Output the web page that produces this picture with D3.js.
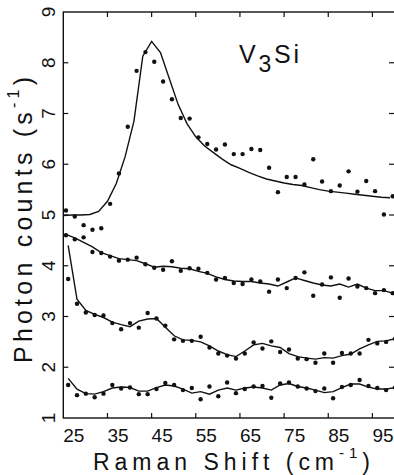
<!DOCTYPE html>
<html>
<head>
<meta charset="utf-8">
<script src="https://cdn.jsdelivr.net/npm/d3@7/dist/d3.min.js"></script>
<style>
body { margin: 0; background: #fff; }
text { font-family: "Liberation Sans", sans-serif; fill: #111; }
</style>
</head>
<body>
<script>
// Raman spectra of V3Si, four temperatures stacked.
// dots = measured counts, fit = calculated curve.
var xsA = [25.6, 27.6, 29.6, 31.6, 33.6, 35.6, 37.6, 39.6, 41.6, 43.6, 45.6, 47.6, 49.6,
	51.6, 53.6, 55.6, 57.6, 59.6, 61.6, 63.6, 65.6, 67.6, 69.6, 71.6, 73.6, 75.6, 77.6,
	79.6, 81.6, 83.6, 85.6, 87.6, 89.6, 91.6, 93.6, 95.6, 97.6, 99.6];
var xsB = [26.1, 28.1, 30.1, 32.1, 34.1, 36.1, 38.1, 40.1, 42.1, 44.1, 46.1, 48.1, 50.1,
	52.1, 54.1, 56.1, 58.1, 60.1, 62.1, 64.1, 66.1, 68.1, 70.1, 72.1, 74.1, 76.1, 78.1,
	80.1, 82.1, 84.1, 86.1, 88.1, 90.1, 92.1, 94.1, 96.1, 98.1, 100.1];
var fitX1 = [25, 27, 29, 31, 33, 35, 37, 39, 41, 43, 45, 47, 49, 51, 53, 55, 57, 59, 61,
	63, 65, 67, 69, 71, 73, 75, 77, 79, 81, 83, 85, 87, 89, 91, 93, 95, 97, 99];

var dots1 = [5.09, 4.97, 4.80, 4.71, 4.74, 5.22, 5.82, 6.74, 7.84, 8.21,
	8.02, 7.63, 7.28, 6.91, 6.90, 6.53, 6.40, 6.29, 6.39, 6.20,
	6.20, 6.30, 6.28, 5.93, 5.45, 5.75, 5.75, 5.60, 6.10, 5.66,
	5.47, 5.58, 5.86, 5.46, 5.67, 5.47, 5.01, 5.37];
var fit1 = [4.99, 5.00, 5.00, 5.01, 5.07, 5.27, 5.62, 6.15, 6.85, 8.13,
	8.42, 8.20, 7.69, 7.18, 6.80, 6.54, 6.36, 6.23, 6.10, 5.99,
	5.92, 5.84, 5.77, 5.71, 5.67, 5.63, 5.60, 5.58, 5.54, 5.50,
	5.47, 5.45, 5.43, 5.41, 5.39, 5.37, 5.35, 5.34];

var dots2 = [4.60, 4.52, 4.56, 4.27, 4.25, 4.18, 4.10, 4.12, 4.16, 4.03,
	3.96, 3.92, 4.09, 3.90, 3.95, 3.94, 3.86, 3.73, 3.76, 3.66,
	3.64, 3.73, 3.69, 3.49, 3.73, 3.56, 3.76, 3.87, 3.41, 3.63,
	3.77, 3.37, 3.75, 3.59, 3.56, 3.46, 3.52, 3.46];
var fit2 = [4.62, 4.55, 4.46, 4.37, 4.26, 4.20, 4.14, 4.12, 4.10, 4.04,
	3.97, 3.99, 3.98, 3.95, 3.94, 3.89, 3.85, 3.78, 3.73, 3.70,
	3.69, 3.69, 3.66, 3.64, 3.60, 3.68, 3.76, 3.71, 3.66, 3.62,
	3.60, 3.64, 3.58, 3.64, 3.56, 3.51, 3.51, 3.46];

var dots3 = [3.74, 3.25, 3.08, 3.03, 3.02, 2.87, 2.75, 2.87, 2.78, 3.07,
	2.96, 2.82, 2.55, 2.52, 2.52, 2.60, 2.39, 2.27, 2.23, 2.17,
	2.27, 2.49, 2.37, 2.51, 2.30, 2.35, 2.17, 2.16, 2.09, 2.27,
	2.09, 2.28, 2.27, 2.27, 2.54, 2.47, 2.50, 2.56];
var fit3 = [4.40, 3.34, 3.12, 3.04, 2.98, 2.89, 2.84, 2.80, 2.91, 2.95,
	2.96, 2.79, 2.62, 2.54, 2.53, 2.50, 2.42, 2.32, 2.25, 2.21,
	2.32, 2.44, 2.47, 2.42, 2.39, 2.27, 2.21, 2.18, 2.16, 2.19,
	2.18, 2.23, 2.26, 2.36, 2.44, 2.51, 2.52, 2.56];

var dots4 = [1.65, 1.45, 1.48, 1.41, 1.48, 1.65, 1.58, 1.60, 1.47, 1.47,
	1.57, 1.69, 1.65, 1.55, 1.59, 1.37, 1.62, 1.43, 1.70, 1.49,
	1.57, 1.62, 1.63, 1.40, 1.68, 1.70, 1.62, 1.58, 1.53, 1.58,
	1.39, 1.61, 1.65, 1.75, 1.63, 1.59, 1.55, 1.60];
var fit4 = [1.78, 1.57, 1.48, 1.47, 1.52, 1.59, 1.61, 1.60, 1.53, 1.53,
	1.60, 1.65, 1.63, 1.57, 1.49, 1.52, 1.47, 1.55, 1.59, 1.55,
	1.59, 1.61, 1.59, 1.55, 1.65, 1.68, 1.62, 1.59, 1.55, 1.50,
	1.52, 1.60, 1.67, 1.67, 1.61, 1.57, 1.57, 1.60];

var xTicks = [25, 35, 45, 55, 65, 75, 85, 95];
var yTicks = [1, 2, 3, 4, 5, 6, 7, 8, 9];

var series = [
	{x: xsA, dots: dots1, fitX: fitX1, fit: fit1},
	{x: xsA, dots: dots2, fitX: xsA, fit: fit2},
	{x: xsB, dots: dots3, fitX: xsB, fit: fit3},
	{x: xsB, dots: dots4, fitX: xsB, fit: fit4}
];

// note: no "top" as a global, it clashes with window.top
var W = 394, H = 475;
var padL = 63.3, padR = 394.5, padT = 12, padB = 418;

var svg = d3.select('body').append('svg')
	.attr('width', W)
	.attr('height', H);

var x = d3.scaleLinear().domain([25, 100]).range([padL, padR]);
var y = d3.scaleLinear().domain([1, 9]).range([padB, padT]);

// frame, right side sits just off the picture
svg.append('rect')
	.attr('x', padL).attr('y', padT)
	.attr('width', W + 2 - padL).attr('height', padB - padT)
	.attr('fill', 'none').attr('stroke', '#111').attr('stroke-width', 1.4);

// inward ticks, all four sides
var tk = 5;
var g = svg.append('g').attr('stroke', '#111').attr('stroke-width', 1.2);
xTicks.slice(1).forEach(function(t) {
	g.append('line').attr('x1', x(t)).attr('x2', x(t)).attr('y1', padB).attr('y2', padB - tk);
	g.append('line').attr('x1', x(t)).attr('x2', x(t)).attr('y1', padT).attr('y2', padT + tk);
});
yTicks.slice(1, -1).forEach(function(t) {
	g.append('line').attr('x1', padL).attr('x2', padL + tk).attr('y1', y(t)).attr('y2', y(t));
	g.append('line').attr('x1', W).attr('x2', W - tk).attr('y1', y(t)).attr('y2', y(t));
});

// tick labels (left-aligned to the tick like the old plotter did)
svg.selectAll('.xl').data(xTicks).enter().append('text')
	.attr('x', function(d) { return x(d); })
	.attr('y', 442)
	.attr('font-size', 19)
	.text(function(d) { return d; });

svg.selectAll('.yl').data(yTicks).enter().append('text')
	.attr('transform', function(d) { return 'translate(55,' + y(d) + ') rotate(-90)'; })
	.attr('text-anchor', 'middle')
	.attr('font-size', 19)
	.text(function(d) { return d; });

// stretch a text to a given length by letter spacing
function spread(sel, len) {
	var n = sel.text().length;
	var w = sel.node().getComputedTextLength();
	sel.attr('letter-spacing', (len - w) / (n - 1));
}

var xt = svg.append('text').attr('x', 93).attr('y', 470).attr('font-size', 23);
xt.append('tspan').text('Raman Shift (cm');
xt.append('tspan').attr('font-size', 15).attr('dy', -12).text('-1');
xt.append('tspan').attr('dy', 12).text(')');
spread(xt, 277);

var yt = svg.append('text').attr('transform', 'translate(32,363) rotate(-90)').attr('font-size', 25);
yt.append('tspan').text('Photon counts (s');
yt.append('tspan').attr('font-size', 16).attr('dy', -13).text('-1');
yt.append('tspan').attr('dy', 13).text(')');
spread(yt, 286);

var lab = svg.append('text').attr('x', 239).attr('y', 63).attr('font-size', 25);
lab.append('tspan').text('V');
lab.append('tspan').attr('dy', 9).attr('font-size', 23).text('3');
lab.append('tspan').attr('dy', -9).text('Si');
spread(lab, 60);

var line = d3.line()
	.x(function(d) { return x(d[0]); })
	.y(function(d) { return y(d[1]); });

series.forEach(function(s) {
	svg.append('path')
		.attr('d', line(d3.zip(s.fitX, s.fit)))
		.attr('fill', 'none')
		.attr('stroke', '#111')
		.attr('stroke-width', 1.4);
	svg.append('g').selectAll('circle').data(d3.zip(s.x, s.dots)).enter().append('circle')
		.attr('cx', function(d) { return x(d[0]); })
		.attr('cy', function(d) { return y(d[1]); })
		.attr('r', 2.2)
		.attr('fill', '#111');
});
</script>
</body>
</html>
